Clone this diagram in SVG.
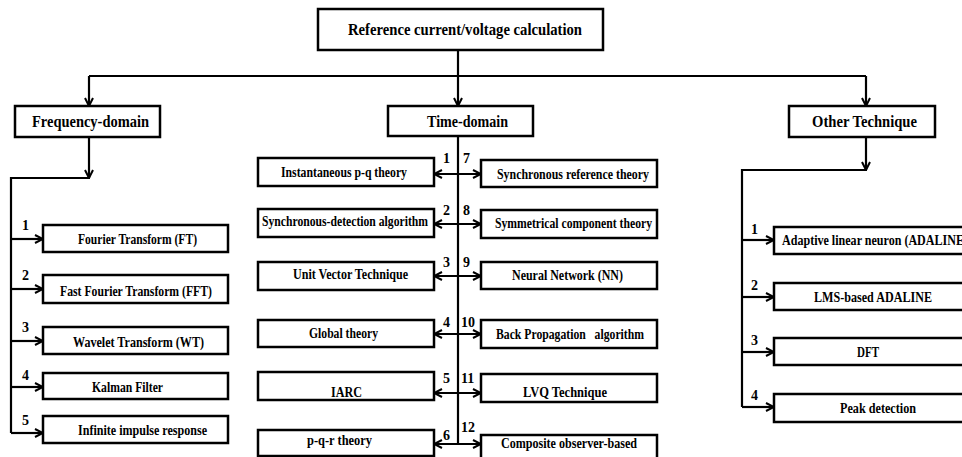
<svg xmlns="http://www.w3.org/2000/svg" width="962" height="457" viewBox="0 0 962 457">
<defs>
<style>
.box{fill:#fff;stroke:#000;stroke-width:2.5}
.ln{fill:none;stroke:#000;stroke-width:2.2}
.arr{marker-end:url(#ah)}
.dbl{marker-start:url(#ah);marker-end:url(#ah)}
text{font-family:"Liberation Serif","Times New Roman",serif;font-weight:bold;fill:#000}
.t1{font-size:17px}
.t2{font-size:16px}
.t3{font-size:14px}
.n{font-size:14px}
</style>
<marker id="ah" viewBox="0 0 10 10" refX="9" refY="5" markerWidth="10" markerHeight="10" markerUnits="userSpaceOnUse" orient="auto-start-reverse">
<path d="M1,1 L9,5 L1,9" fill="none" stroke="#000" stroke-width="2"/>
</marker>
</defs>
<rect width="962" height="457" fill="#fff"/>

<g id="connectors">
<path class="ln" d="M458,50 V76"/>
<path class="ln" d="M89,76 H866"/>
<path class="ln arr" d="M89,76 V106"/>
<path class="ln arr" d="M458,76 V106"/>
<path class="ln arr" d="M866,76 V106"/>
<path class="ln arr" d="M89,137 V178"/>
<path class="ln" d="M90,178 H11 V433"/>
<path class="ln arr" d="M11,239 H43"/>
<path class="ln arr" d="M11,289 H43"/>
<path class="ln arr" d="M11,341 H43"/>
<path class="ln arr" d="M11,387 H43"/>
<path class="ln arr" d="M11,433 H43"/>
<path class="ln" d="M458,136 V444"/>
<path class="ln dbl" d="M434,174 H481"/>
<path class="ln dbl" d="M434,224 H481"/>
<path class="ln dbl" d="M434,276 H481"/>
<path class="ln dbl" d="M434,334 H481"/>
<path class="ln dbl" d="M434,393 H481"/>
<path class="ln dbl" d="M434,444 H481"/>
<path class="ln arr" d="M866,137 V170"/>
<path class="ln" d="M867,170 H742 V407"/>
<path class="ln arr" d="M742,240 H774"/>
<path class="ln arr" d="M742,297 H774"/>
<path class="ln arr" d="M742,352 H774"/>
<path class="ln arr" d="M742,407 H774"/>
</g>

<g id="root"><rect class="box" x="318" y="9" width="285" height="41"/><text class="t1" x="348" y="35" textLength="234" lengthAdjust="spacingAndGlyphs">Reference current/voltage calculation</text></g>
<g id="freq"><rect class="box" x="15" y="106" width="145" height="31"/><text class="t2" x="32" y="127" textLength="117" lengthAdjust="spacingAndGlyphs">Frequency-domain</text></g>
<g id="time"><rect class="box" x="388" y="106" width="145" height="30"/><text class="t2" x="427" y="127" textLength="81" lengthAdjust="spacingAndGlyphs">Time-domain</text></g>
<g id="other"><rect class="box" x="789" y="106" width="146" height="31"/><text class="t2" x="812" y="127" textLength="105" lengthAdjust="spacingAndGlyphs">Other Technique</text></g>

<g id="f1"><rect class="box" x="43" y="225" width="185" height="27"/><text class="t3" x="78" y="244" textLength="119" lengthAdjust="spacingAndGlyphs">Fourier Transform (FT)</text><text class="n" x="22" y="230">1</text></g>
<g id="f2"><rect class="box" x="43" y="275" width="185" height="28"/><text class="t3" x="60" y="296" textLength="152" lengthAdjust="spacingAndGlyphs">Fast Fourier Transform (FFT)</text><text class="n" x="22" y="280">2</text></g>
<g id="f3"><rect class="box" x="43" y="327" width="185" height="27"/><text class="t3" x="73" y="347" textLength="131" lengthAdjust="spacingAndGlyphs">Wavelet Transform (WT)</text><text class="n" x="22" y="332">3</text></g>
<g id="f4"><rect class="box" x="43" y="373" width="185" height="26"/><text class="t3" x="92" y="392" textLength="71" lengthAdjust="spacingAndGlyphs">Kalman Filter</text><text class="n" x="22" y="380">4</text></g>
<g id="f5"><rect class="box" x="43" y="416" width="185" height="27"/><text class="t3" x="78" y="435" textLength="129" lengthAdjust="spacingAndGlyphs">Infinite impulse response</text><text class="n" x="22" y="425">5</text></g>

<g id="t1"><rect class="box" x="258" y="158" width="176" height="28"/><text class="t3" x="281" y="177" textLength="126" lengthAdjust="spacingAndGlyphs">Instantaneous p-q theory</text><text class="n" x="443" y="163">1</text></g>
<g id="t2"><rect class="box" x="258" y="209" width="176" height="28"/><text class="t3" x="262" y="226" textLength="166" lengthAdjust="spacingAndGlyphs">Synchronous-detection algorithm</text><text class="n" x="443" y="215">2</text></g>
<g id="t3"><rect class="box" x="258" y="262" width="176" height="28"/><text class="t3" x="293" y="279" textLength="115" lengthAdjust="spacingAndGlyphs">Unit Vector Technique</text><text class="n" x="443" y="267">3</text></g>
<g id="t4"><rect class="box" x="258" y="320" width="176" height="27"/><text class="t3" x="309" y="338" textLength="69" lengthAdjust="spacingAndGlyphs">Global theory</text><text class="n" x="443" y="327">4</text></g>
<g id="t5"><rect class="box" x="258" y="372" width="176" height="28"/><text class="t3" x="331" y="397" textLength="31" lengthAdjust="spacingAndGlyphs">IARC</text><text class="n" x="443" y="383">5</text></g>
<g id="t6"><rect class="box" x="258" y="430" width="176" height="26"/><text class="t3" x="307" y="445" textLength="65" lengthAdjust="spacingAndGlyphs">p-q-r theory</text><text class="n" x="443" y="440">6</text></g>

<g id="t7"><rect class="box" x="481" y="160" width="176" height="27"/><text class="t3" x="497" y="179" textLength="152" lengthAdjust="spacingAndGlyphs">Synchronous reference theory</text><text class="n" x="463" y="163">7</text></g>
<g id="t8"><rect class="box" x="481" y="210" width="176" height="28"/><text class="t3" x="495" y="228" textLength="157" lengthAdjust="spacingAndGlyphs">Symmetrical component theory</text><text class="n" x="463" y="215">8</text></g>
<g id="t9"><rect class="box" x="481" y="262" width="176" height="27"/><text class="t3" x="512" y="280" textLength="111" lengthAdjust="spacingAndGlyphs">Neural Network (NN)</text><text class="n" x="463" y="267">9</text></g>
<g id="t10"><rect class="box" x="481" y="320" width="176" height="28"/><text class="t3" x="496" y="339" textLength="148" lengthAdjust="spacingAndGlyphs" xml:space="preserve">Back Propagation   algorithm</text><text class="n" x="461" y="327">10</text></g>
<g id="t11"><rect class="box" x="481" y="374" width="176" height="28"/><text class="t3" x="523" y="397" textLength="84" lengthAdjust="spacingAndGlyphs">LVQ Technique</text><text class="n" x="461" y="383">11</text></g>
<g id="t12"><rect class="box" x="481" y="435" width="176" height="24"/><text class="t3" x="501" y="448" textLength="136" lengthAdjust="spacingAndGlyphs">Composite observer-based</text><text class="n" x="461" y="432">12</text></g>

<g id="o1"><rect class="box" x="774" y="227" width="196" height="27"/><text class="t3" x="782" y="245" textLength="186" lengthAdjust="spacingAndGlyphs">Adaptive linear neuron (ADALINE)</text><text class="n" x="751" y="234">1</text></g>
<g id="o2"><rect class="box" x="774" y="283" width="196" height="27"/><text class="t3" x="814" y="302" textLength="118" lengthAdjust="spacingAndGlyphs">LMS-based ADALINE</text><text class="n" x="751" y="290">2</text></g>
<g id="o3"><rect class="box" x="774" y="338" width="196" height="27"/><text class="t3" x="857" y="357" textLength="22" lengthAdjust="spacingAndGlyphs">DFT</text><text class="n" x="751" y="345">3</text></g>
<g id="o4"><rect class="box" x="774" y="394" width="196" height="28"/><text class="t3" x="840" y="413" textLength="76" lengthAdjust="spacingAndGlyphs">Peak detection</text><text class="n" x="751" y="400">4</text></g>
</svg>
